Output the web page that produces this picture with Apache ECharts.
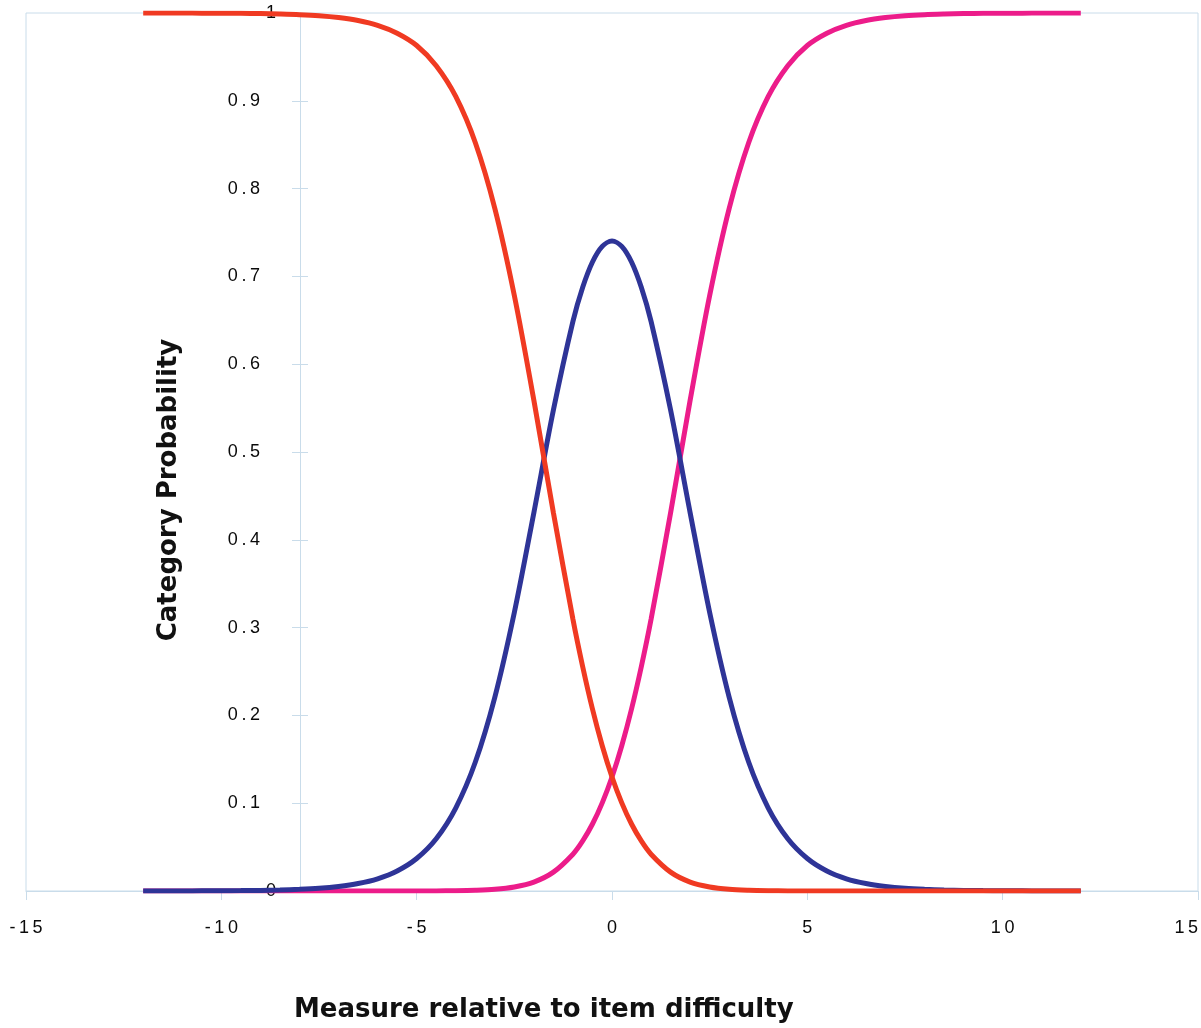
<!DOCTYPE html>
<html>
<head>
	<meta charset="utf-8">
	<title>Category Probability</title>
	<script src="https://cdn.jsdelivr.net/npm/echarts@6/dist/echarts.min.js"></script>
	<style>
body{
	margin: 0;
	background: #ffffff;
}
#main{
	width: 1201px;
	height: 1028px;
}
</style>
</head>
<body>
<div id="main"></div>
<script>
// measure relative to item difficulty
var measures = [-12, -11.5, -11, -10.5, -10, -9.5, -9, -8.5, -8, -7.5, -7, -6.5, -6, -5.5, -5, -4.5, -4, -3.5, -3, -2.5, -2, -1.5, -1, -0.75, -0.5, -0.25,
	0, 0.25, 0.5, 0.75, 1, 1.5, 2, 2.5, 3, 3.5, 4, 4.5, 5, 5.5, 6, 6.5, 7, 7.5, 8, 8.5, 9, 9.5, 10, 10.5, 11, 11.5, 12];

// category 0 (red)
var cat0 = [1.0000, 0.9999, 0.9999, 0.9998, 0.9997, 0.9996, 0.9993, 0.9988, 0.9981, 0.9969, 0.9948, 0.9915, 0.986, 0.977, 0.963, 0.940,
	0.905, 0.8525, 0.7775, 0.6782, 0.5589, 0.4308, 0.3095, 0.2555, 0.2073, 0.1655,
	0.1299, 0.1004, 0.0763, 0.0570, 0.0419, 0.0215, 0.0102, 0.0046, 0.0019, 0.0008,
	0.0003, 0.0001, 0.00004, 0.00002, 0.00001, 0, 0, 0, 0, 0, 0, 0, 0, 0, 0, 0, 0];

// category 1 (blue)
var cat1 = [0.00004, 0.00006, 0.0001, 0.00016, 0.00026, 0.00043, 0.0007, 0.00116, 0.0019, 0.0031, 0.0052, 0.0085, 0.0139, 0.0228, 0.0370, 0.0595,
	0.0945, 0.1466, 0.2206, 0.3172, 0.4309, 0.5477, 0.6487, 0.6876, 0.7164, 0.7342,
	0.7402, 0.7342, 0.7164, 0.6876, 0.6487, 0.5477, 0.4309, 0.3172, 0.2206, 0.1466,
	0.0945, 0.0595, 0.0370, 0.0228, 0.0139, 0.0085, 0.0052, 0.0031, 0.0019, 0.00116, 0.0007, 0.00043, 0.00026, 0.00016, 0.0001, 0.00006, 0.00004];

// category 2 (magenta)
var cat2 = [0, 0, 0, 0, 0, 0, 0, 0, 0, 0, 0, 0, 0.00001, 0.00002, 0.00004, 0.0001,
	0.0003, 0.0008, 0.0019, 0.0046, 0.0102, 0.0215, 0.0419, 0.0570, 0.0763, 0.1004,
	0.1299, 0.1655, 0.2073, 0.2555, 0.3095, 0.4308, 0.5589, 0.6782, 0.7775, 0.8525,
	0.905, 0.940, 0.963, 0.977, 0.986, 0.9915, 0.9948, 0.9969, 0.9981, 0.9988, 0.9993, 0.9996, 0.9997, 0.9998, 0.9999, 0.9999, 1.0000];

var xTicks = [-15, -10, -5, 0, 5, 10, 15];
var yTicks = [0, 0.1, 0.2, 0.3, 0.4, 0.5, 0.6, 0.7, 0.8, 0.9, 1];

function pairs(ys) {
	var out = [];
	for (var i = 0; i < measures.length; i++) out.push([measures[i], ys[i]]);
	return out;
}

// spread the digits a little, like the original labels
function spaced(s) {
	return s.split('').join('\u2009');
}

var axisBlue = '#c9dcea';
var titleFont = {fontFamily: 'DejaVu Sans', fontWeight: 'bold', fontSize: 26, color: '#111'};
var labelFont = {fontFamily: 'Liberation Sans', fontSize: 18, color: '#0a0a0a'};

var myChart = echarts.init(document.getElementById('main'));
var option = {
	animation: false,
	title: {
		text: 'Measure relative to item difficulty',
		left: 289,
		top: 992,
		textStyle: titleFont
	},
	graphic: [{
		type: 'text',
		x: 169,
		y: 490,
		rotation: Math.PI / 2,
		style: {
			text: 'Category Probability',
			font: 'bold 26px "DejaVu Sans"',
			fill: '#111',
			align: 'center',
			verticalAlign: 'middle'
		}
	}],
	grid: {left: 26, right: 1, top: 13, bottom: 137, show: true, borderColor: axisBlue, borderWidth: 1},
	xAxis: {
		type: 'value',
		min: xTicks[0],
		max: xTicks[xTicks.length - 1],
		interval: 5,
		splitLine: {show: false},
		axisLine: {lineStyle: {color: axisBlue}},
		axisTick: {length: 9, lineStyle: {color: axisBlue}},
		axisLabel: Object.assign({
			margin: 28,
			alignMaxLabel: 'right',
			formatter: function (v) { return spaced(String(v)); }
		}, labelFont)
	},
	yAxis: [{
		type: 'value',
		position: 'left',
		min: yTicks[0],
		max: yTicks[yTicks.length - 1],
		interval: 0.1,
		offset: -274,   // axis sits at x = -8
		splitLine: {show: false},
		axisLine: {show: true, onZero: false, lineStyle: {color: axisBlue}},
		axisTick: {show: true, length: 8, lineStyle: {color: axisBlue}},
		axisLabel: {
			margin: 24,
			formatter: function (v) {
				if (v === 0 || v === 1) return '{e|' + v + '}';
				return '{n|' + spaced(v.toFixed(1)) + '}';
			},
			rich: {
				n: Object.assign({padding: [0, 16, 0, 0]}, labelFont),
				e: Object.assign({padding: [0, 0, 0, 0]}, labelFont)
			}
		}
	}, {
		// inner half of the crossing ticks
		type: 'value',
		position: 'left',
		min: yTicks[0],
		max: yTicks[yTicks.length - 1],
		interval: 0.1,
		offset: -274,
		splitLine: {show: false},
		axisLine: {show: false, onZero: false},
		axisLabel: {show: false},
		axisTick: {show: true, inside: true, length: 8, lineStyle: {color: axisBlue}}
	}],
	series: [
		{type: 'line', data: pairs(cat2), smooth: 0.3, showSymbol: false, lineStyle: {color: '#ec1c8a', width: 5}},
		{type: 'line', data: pairs(cat1), smooth: 0.3, showSymbol: false, lineStyle: {color: '#2e3497', width: 5}},
		{type: 'line', data: pairs(cat0), smooth: 0.3, showSymbol: false, lineStyle: {color: '#f03a22', width: 5}}
	]
};
myChart.setOption(option);
</script>
</body>
</html>
